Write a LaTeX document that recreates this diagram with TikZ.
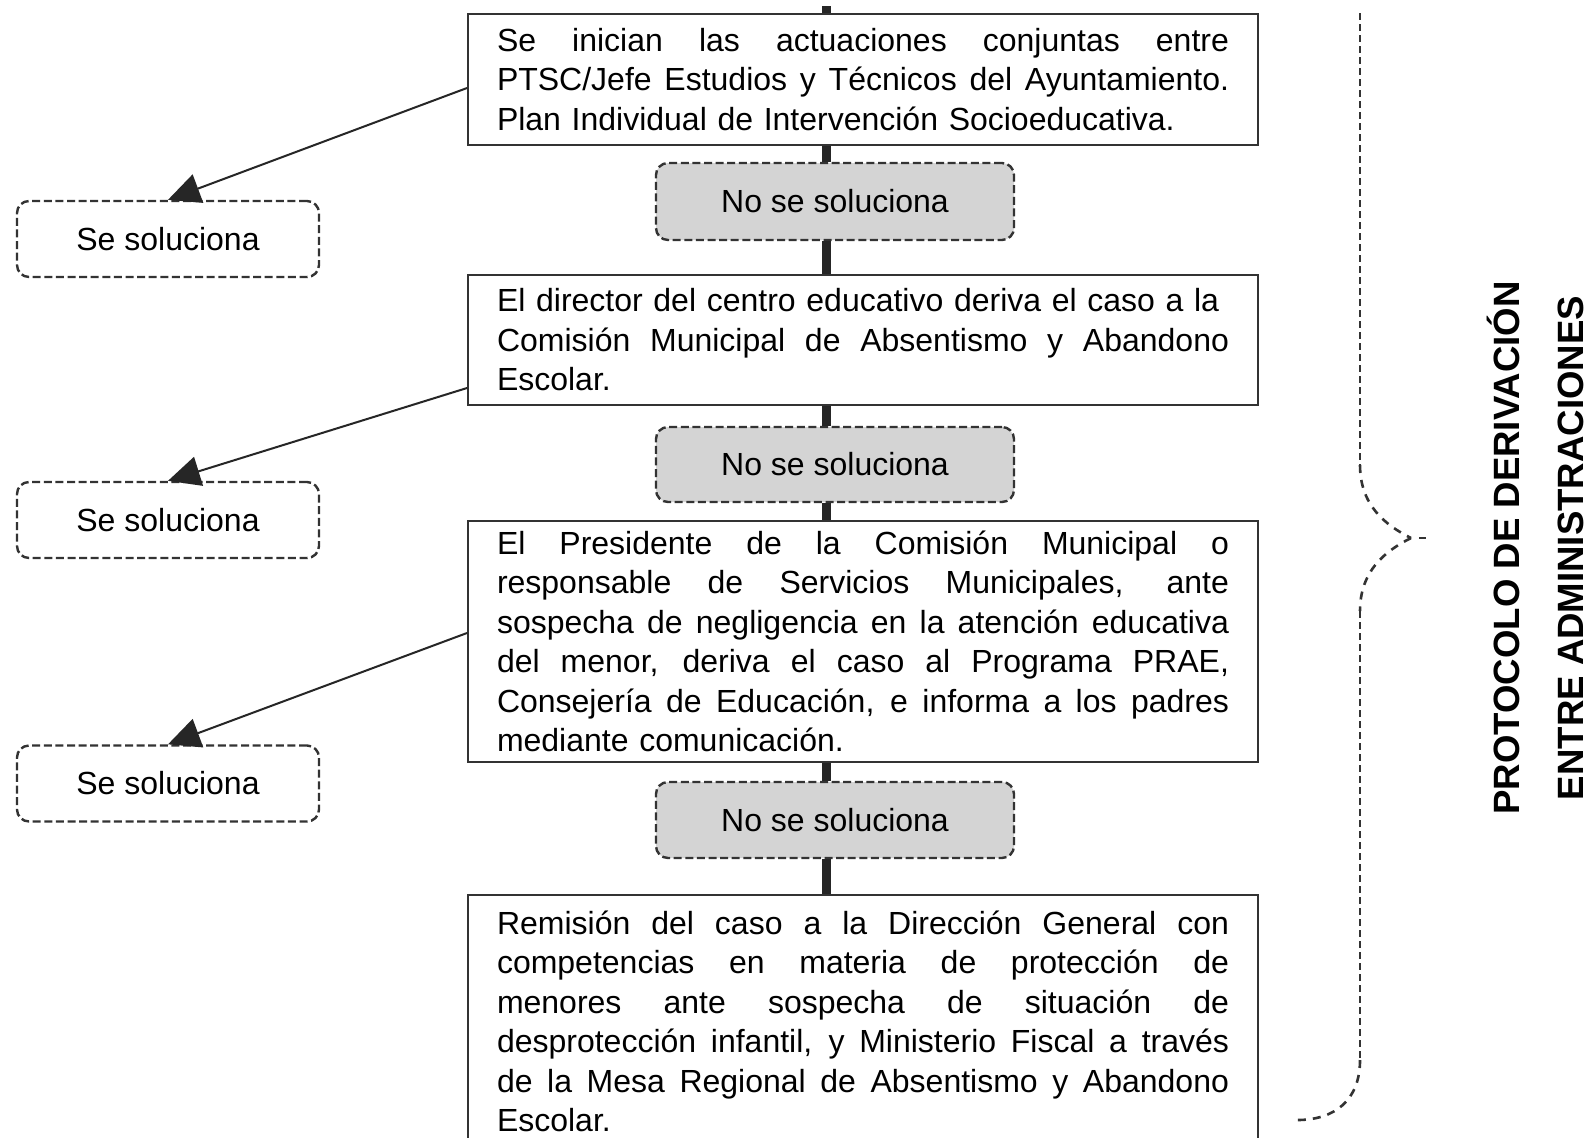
\documentclass[tikz,border=0pt]{standalone}
\usepackage{fontspec}
\setmainfont{Liberation Sans}
\usetikzlibrary{arrows.meta}
\newcommand{\mystrut}{\rule[-0.21\baselineskip]{0pt}{\baselineskip}}
\newcommand{\jline}[1]{\leavevmode\hbox to 366pt{\spaceskip=0pt\xspaceskip=0pt #1}}
\begin{document}
\begin{tikzpicture}[x=0.5pt,y=-0.5pt,
  bodyfont/.style={font=\fontsize{16pt}{19.75pt}\selectfont},
  mainbox/.style={draw=black!80, line width=1pt, fill=white, bodyfont,
    text width=366pt, minimum width=395pt, align=left, inner xsep=0pt, inner ysep=1pt},
  nobox/.style={draw=black!80, dash pattern=on 4pt off 1.8pt, line width=1.2pt,
    rounded corners=6pt, fill=black!17, bodyfont, minimum width=179pt,
    minimum height=38pt, inner sep=0pt},
  sibox/.style={nobox, fill=white, minimum width=151pt},
  spine/.style={line width=4.5pt, black!85},
  arr/.style={line width=1pt, black!85, -{Triangle[length=16pt,width=15pt]}},
  bracedash/.style={line width=1.3pt, black!80, dash pattern=on 3.5pt off 2pt},
  bracecurve/.style={line width=1.3pt, black!80, dash pattern=on 4pt off 3.5pt}
]
\useasboundingbox (0,0) rectangle (1589,1137);
\clip (0,0) rectangle (1589,1137);
\fill[white] (0,0) rectangle (1589,1137);

\coordinate (spinetop) at (826,6);

% main boxes
\node[mainbox, minimum height=65.5pt] (b1) at (863,79.5) {%
\jline{\mystrut Se inician las actuaciones conjuntas entre}\\
\jline{PTSC/Jefe Estudios y Técnicos del Ayuntamiento.}\\
Plan Individual de Intervención Socioeducativa.\mystrut};

\node[mainbox, minimum height=65pt] (b2) at (863,340) {%
\mystrut El director del centro educativo deriva el caso a la\\
\jline{Comisión Municipal de Absentismo y Abandono}\\
Escolar.\mystrut};

\node[mainbox, minimum height=120.5pt] (b3) at (863,641.5) {%
\jline{\mystrut El Presidente de la Comisión Municipal o}\\
\jline{responsable de Servicios Municipales, ante}\\
\jline{sospecha de negligencia en la atención educativa}\\
\jline{del menor, deriva el caso al Programa PRAE,}\\
\jline{Consejería de Educación, e informa a los padres}\\
mediante comunicación.\mystrut};

\node[mainbox, anchor=north, inner ysep=4pt] (b4) at (863,894) {%
\jline{\mystrut Remisión del caso a la Dirección General con}\\
\jline{competencias en materia de protección de}\\
\jline{menores ante sospecha de situación de}\\
\jline{desprotección infantil, y Ministerio Fiscal a través}\\
\jline{de la Mesa Regional de Absentismo y Abandono}\\
Escolar.\mystrut\par\vspace*{30pt}};

% "No se soluciona" boxes
\node[nobox, minimum height=38.5pt] (n1) at (835,201.5) {No se soluciona};
\node[nobox, minimum height=37.5pt] (n2) at (835,464.5) {No se soluciona};
\node[nobox] (n3) at (835,820) {No se soluciona};

% "Se soluciona" boxes
\node[sibox] (s1) at (168,239) {Se soluciona};
\node[sibox] (s2) at (168,520) {Se soluciona};
\node[sibox] (s3) at (168,783.5) {Se soluciona};

% spine
\draw[spine] (spinetop) -- (b1.north -| spinetop);
\draw[spine] (b1.south -| spinetop) -- (n1.north -| spinetop);
\draw[spine] (n1.south -| spinetop) -- (b2.north -| spinetop);
\draw[spine] (b2.south -| spinetop) -- (n2.north -| spinetop);
\draw[spine] (n2.south -| spinetop) -- (b3.north -| spinetop);
\draw[spine] (b3.south -| spinetop) -- (n3.north -| spinetop);
\draw[spine] (n3.south -| spinetop) -- (b4.north -| spinetop);

% arrows
\draw[arr] ([yshift=-4.25pt]b1.west) -- (s1.north);
\draw[arr] ([yshift=-24pt]b2.west) -- (s2.north);
\draw[arr] ([yshift=4.25pt]b3.west) -- (s3.north);

% brace
\draw[bracedash] (1360,13) -- (1360,465);
\draw[bracecurve] (1360,465) .. controls (1360,505) and (1385,525) .. (1411,538);
\draw[bracecurve] (1411,538) .. controls (1385,551) and (1360,571) .. (1360,611);
\draw[bracedash] (1360,611) -- (1360,1060);
\draw[bracecurve] (1360,1060) .. controls (1360,1100) and (1335,1120) .. (1297,1120);
\draw[bracedash] (1419,538) -- (1429,538);

% label
\node[rotate=90, font=\bfseries\fontsize{18.3pt}{32pt}\selectfont, align=center, inner sep=0pt] (lbl) at (1535,548)
  {PROTOCOLO DE DERIVACIÓN\\ENTRE ADMINISTRACIONES};
\end{tikzpicture}
\end{document}
